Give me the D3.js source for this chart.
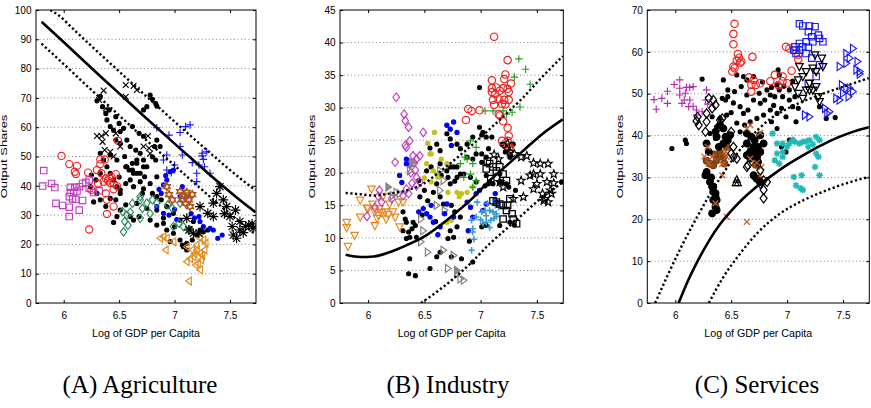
<!DOCTYPE html>
<html>
<head>
<meta charset="utf-8">
<title>Output shares vs log GDP per capita</title>
<script src="https://cdn.jsdelivr.net/npm/d3@7"></script>
<style>
  body { margin: 0; background: #fff; }
</style>
</head>
<body>
<div id="chart"></div>
<script>
// ---- tick labels ----
var xTicks = [6, 6.5, 7, 7.5];
var agTicks = [0, 10, 20, 30, 40, 50, 60, 70, 80, 90, 100];
var inTicks = [0, 5, 10, 15, 20, 25, 30, 35, 40, 45];
var svTicks = [0, 10, 20, 30, 40, 50, 60, 70];

// ---- (A) Agriculture ----
var agFit = [[5.8,96],[5.95,90.8],[6.1,85.5],[6.25,80.2],[6.4,75],[6.55,69.8],[6.7,64.6],[6.85,59.5],[7.0,54.4],[7.15,49.4],[7.3,44.4],[7.45,39.5],[7.6,34.8],[7.73,31]];
var agUpper = [[5.88,100],[5.95,98.3],[6.1,93],[6.25,87.7],[6.4,82.5],[6.55,77.3],[6.7,72.1],[6.85,67],[7.0,61.9],[7.15,56.9],[7.3,51.9],[7.45,47],[7.6,42.3],[7.73,38.5]];
var agLower = [[5.8,88.5],[5.95,83.3],[6.1,78],[6.25,72.7],[6.4,67.5],[6.55,62.3],[6.7,57.1],[6.85,52],[7.0,46.9],[7.15,41.9],[7.3,36.9],[7.45,32],[7.6,27.3],[7.73,23.5]];
var agMagentaSq = [[5.82,45.2],[5.81,39.9],[5.89,40.8],[5.92,39.4],[5.93,34],[5.99,33.3],[6.05,32.7],[6.05,29.5],[6.06,39.5],[6.1,39.5],[6.14,39.7],[6.05,36.3],[6.09,37.7],[6.11,35.4],[6.14,31.7],[6.17,35],[6.2,41.2],[6.23,42],[6.23,39.1],[6.27,37.7],[6.32,38.3],[6.06,37.7],[6.17,40.8],[6.08,35.5],[6.12,38.2]];
var agRedCirc = [[5.98,50.2],[6.05,47.4],[6.12,46.8],[6.1,44.8],[6.11,44],[6.22,44.5],[6.33,49],[6.33,47.4],[6.37,49],[6.3,45.4],[6.34,44.3],[6.38,42.5],[6.36,41.4],[6.4,41.8],[6.43,43.1],[6.47,44],[6.45,40.8],[6.48,39.9],[6.45,38.8],[6.38,37.4],[6.39,35.2],[6.45,32.9],[6.39,30.4],[6.23,25.1],[6.31,40.8],[6.25,38.6],[6.49,55.4],[6.41,42.6],[6.42,41]];
var agBlackX = [[6.36,72.5],[6.32,69.3],[6.38,66.4],[6.3,57],[6.34,57],[6.38,57.9],[6.37,52.2],[6.42,51.6],[6.56,74.4],[6.63,74.1],[6.66,72.7],[6.56,70.4],[6.76,57],[6.72,53.4],[6.77,52.8],[6.78,51],[6.51,53.4],[6.45,50],[6.47,57.9],[6.35,55]];
var agBluePlus = [[6.84,59.8],[6.95,57.3],[7.05,58.2],[7.1,60.2],[7.14,60.8],[7.05,53.4],[7.07,50.5],[6.93,50.5],[6.9,48.8],[7.25,51.1],[7.29,51.6],[7.26,49],[7.27,46.5],[7.32,44.3],[7.22,47.1],[7.2,44.3],[7.2,41.4],[7.16,47.9],[7.25,50.2],[7.0,47.1],[6.93,45.4],[6.97,44.5]];
var agBlueDot = [[6.96,44.8],[6.99,45.4],[6.93,42],[6.9,40.3],[6.88,37.4],[6.84,32.9],[6.9,30.6],[6.95,30],[7.05,36.3],[7.07,39.7],[7.11,36.3],[7.23,27.8],[7.26,26.1],[7.32,25.5],[7.35,24.9],[7.39,22.1],[7.43,23.2],[7.22,29.5],[6.86,38.8],[6.92,43.5],[7.0,32],[7.02,28.5],[7.15,30.5],[7.18,29]];
var agGreenDiam = [[6.53,31.2],[6.55,27.8],[6.54,24.3],[6.57,30],[6.69,35.2],[6.71,32.3],[6.69,28.9],[6.75,34.1],[6.8,35.2],[6.84,34.1],[6.99,26.1],[7.04,27.2],[7.08,26.1],[7.13,24.9],[6.98,32.3],[7.05,34.1],[6.69,36.3],[6.6,31],[6.62,34],[6.78,30.5],[6.94,33.5],[6.58,26.5]];
var agBrownStar = [[6.93,39.7],[6.98,35.2],[7.05,38],[7.08,36.9],[7.11,37.7],[7.13,35.2],[7.14,32.9],[7.07,35.2],[6.95,37],[7.16,37],[7.1,34]];
var agOrangeTri = [[6.9,22.6],[6.93,22.1],[6.92,18.1],[6.87,22.1],[6.99,20.9],[7.11,19.2],[7.16,18.1],[7.2,19.8],[7.23,22.1],[7.26,21.5],[7.23,17],[7.17,15.8],[7.11,14.1],[7.14,15.2],[7.24,14.7],[7.23,11.3],[7.13,7.5],[7.2,18.1],[7.27,18.1],[7.28,20.4],[7.21,13.5],[7.19,13],[7.25,16.2],[7.18,16.8]];
var agBlackAst = [[7.11,28.9],[7.13,24.9],[7.23,32.9],[7.35,34.1],[7.38,37.4],[7.41,39.7],[7.44,35.2],[7.47,32.9],[7.5,29.5],[7.52,26.1],[7.53,23.2],[7.56,22.1],[7.59,24.9],[7.64,26.1],[7.67,26.6],[7.71,25.5],[7.59,27.8],[7.55,31.7],[7.35,29.5],[7.3,30.6],[7.17,23.8],[7.22,23.8],[7.45,30.5],[7.62,24],[7.7,27]];
var agBlackDot = [[6.78,71],[6.8,69.5],[6.83,68.1],[6.84,67.2],[6.72,65.9],[6.75,67],[6.47,63.6],[6.5,61.3],[6.54,59.6],[6.51,58.5],[6.41,65.9],[6.38,64.7],[6.39,62.5],[6.42,60.2],[6.45,59],[6.47,55.6],[6.51,54.5],[6.57,55.6],[6.6,53.4],[6.65,52.2],[6.69,51.1],[6.66,48.8],[6.62,47.7],[6.56,46.5],[6.59,45.4],[6.63,44.3],[6.69,44.3],[6.75,46.5],[6.72,48.8],[6.8,49.9],[6.82,53.4],[6.84,55.6],[6.87,53.4],[6.72,56.9],[6.68,57.9],[6.62,60.2],[6.33,51.1],[6.36,48.8],[6.39,46.5],[6.42,44.3],[6.45,42],[6.48,39.7],[6.51,37.4],[6.33,44.3],[6.29,42],[6.24,39.7],[6.3,37.4],[6.25,43.7],[6.33,35.2],[6.42,35.7],[6.47,35.2],[6.51,38.6],[6.56,40.8],[6.6,42],[6.63,39.7],[6.69,41.4],[6.73,43.1],[6.66,44.3],[6.62,45.4],[6.57,46.5],[6.48,29.5],[6.51,31.7],[6.6,29.5],[6.63,28.3],[6.68,29.5],[6.78,28.3],[6.84,26.6],[6.9,27.2],[6.93,24.9],[6.99,23.8],[7.05,21.5],[7.08,19.2],[7.11,20.4],[7.16,21.5],[7.2,23.2],[7.26,24.3],[7.3,24.9],[7.11,18.1],[7.07,19.8],[6.84,31.7],[6.75,32.3],[6.71,37.4],[6.8,37.4],[6.84,36.3],[6.88,35.2],[6.93,32.9],[6.99,30.6],[6.78,40.8],[6.84,43.1],[6.48,48.8],[6.42,50.5],[6.66,47.7],[6.72,46.5],[6.83,48.8],[7.05,28.3],[7.17,27.8],[7.23,24.9],[6.33,70.5],[6.3,69],[6.35,67],[6.55,50],[6.5,43],[6.38,33],[6.56,33.5],[6.66,34],[6.72,39],[6.9,29],[7.0,26],[6.96,21],[7.14,25.5],[6.27,34.5],[6.45,27.5]];

// ---- (B) Industry ----
var inFit = [[5.8,7.4],[5.93,7.06],[6.05,7.15],[6.19,7.8],[6.34,8.85],[6.49,10.1],[6.64,11.9],[6.79,14],[6.94,16.3],[7.08,18.8],[7.23,21.1],[7.38,23.4],[7.53,25.7],[7.73,28.2]];
var inUpper = [[5.8,16.9],[5.93,16.7],[6.05,16.5],[6.19,16.8],[6.34,17.3],[6.49,18.3],[6.64,20.2],[6.79,22.3],[6.94,24.5],[7.08,26.7],[7.23,29.1],[7.38,31.6],[7.53,34.4],[7.73,37.9]];
var inLower = [[6.47,0],[6.64,2.1],[6.79,4.2],[6.94,6.6],[7.08,9.1],[7.23,11.4],[7.38,13.7],[7.53,16],[7.73,18.5]];
var inOrangeTri = [[5.81,12.4],[5.81,11.6],[5.82,8.7],[5.88,10.4],[5.93,15.8],[5.93,13.2],[6.0,14.5],[6.03,17.5],[6.04,15.2],[6.06,14],[6.09,13.5],[6.12,13.9],[6.15,14],[6.16,12.9],[6.19,15.2],[6.22,14],[6.24,13.2],[6.28,11.7],[6.27,15.5],[6.31,15.5],[6.1,14.5],[6.06,11.9],[6.13,16.4],[5.99,14.6],[6.08,13],[6.18,13.6]];
var inMagentaDiam = [[6.25,31.6],[6.32,29],[6.33,28],[6.36,27],[6.37,24.9],[6.33,24.2],[6.34,23.9],[6.49,26.2],[6.46,22.6],[6.43,22.1],[6.24,21.6],[6.4,22.6],[6.37,21.4],[6.42,20.4],[6.43,19.3],[6.46,18.6],[6.39,18.4],[6.34,17.5],[6.36,16.8],[6.31,16.5],[6.1,17.3],[6.12,15.5],[6.09,16.4],[6.21,16],[5.99,13.3],[6.06,14.7],[6.43,18],[6.38,20],[6.41,21.5]];
var inGrayTri = [[6.25,17],[6.28,16.8],[6.4,21.4],[6.37,20.3],[6.64,17.3],[6.67,18.8],[6.47,12.9],[6.49,11.1],[6.47,9.4],[6.53,7.8],[6.67,8.1],[6.76,7.3],[6.71,5.3],[6.79,4.5],[6.82,3.7],[6.85,3.5],[6.61,15],[6.68,14.2],[6.64,20.3],[6.22,16.5]];
var inGrayTriFill = [[6.18,17.8],[6.39,21.6],[6.79,5]];
var inYellowDot = [[6.59,26.2],[6.56,22.9],[6.55,22.9],[6.52,21.4],[6.58,20.3],[6.61,19.8],[6.56,18.6],[6.65,22.1],[6.7,21.4],[6.71,17],[6.79,17],[6.81,16.3],[6.83,16.8],[6.88,17],[6.93,17.8],[6.74,12.7],[6.7,12.4],[6.62,19.3],[6.5,19.2],[6.53,24.5]];
var inBlueDot = [[6.7,27.3],[6.73,26.7],[6.76,27.8],[6.79,26.2],[6.74,24.2],[6.34,22.1],[6.28,19.6],[6.34,21.4],[6.49,14.5],[6.52,13.7],[6.55,13.2],[6.58,12.4],[6.56,15],[6.64,11.7],[6.68,13.7],[6.7,15.2],[6.76,13.2],[6.88,15.5],[6.91,14.7],[6.93,13.2],[6.96,16.8],[6.99,17.3],[7.02,14.2],[7.05,15.2],[7.13,16.8],[7.14,15.5],[6.89,11.1],[6.3,18.5],[6.62,10.5],[6.45,14]];
var inLightBluePlus = [[6.92,12.7],[6.93,11.4],[6.93,10.9],[6.96,13.2],[7.01,14],[7.04,14.2],[7.05,13.4],[7.08,14.2],[7.11,14],[7.14,13.7],[7.16,14.7],[7.05,12.4],[7.09,12.7],[7.12,13],[7.02,12.2],[7.08,11.6],[7.13,15],[6.92,8.1],[7.14,13.3],[6.97,15.5],[6.94,9.8],[7.0,12.8],[7.06,15.3]];
var inGreenPlus = [[7.34,37.5],[7.4,35.9],[7.3,34.7],[7.44,33.6],[7.35,30.1],[7.28,29.3],[7.04,29.5],[7.11,29.5],[7.2,29.5],[7.23,29],[6.91,24.9],[6.96,23.9],[6.86,22.4],[6.82,21.4],[6.88,22.1],[6.93,21.4],[6.91,19.8],[6.85,19.3],[6.96,18.8],[6.93,17.8]];
var inRedCirc = [[7.12,40.9],[7.24,37.3],[7.22,35.1],[7.27,33.7],[7.1,33],[7.14,33.1],[7.17,32.6],[7.2,33],[7.24,32.9],[7.25,32.4],[7.1,32.4],[7.13,32.1],[7.11,31.2],[7.16,31.3],[7.21,31.2],[7.25,31.2],[7.12,30.4],[7.19,30.6],[7.22,30.5],[7.16,29],[7.17,28.8],[7.2,27.9],[7.24,26.9],[7.25,25.7],[7.24,24.9],[7.19,24.9],[7.26,24],[7.25,23.9],[6.89,29.8],[6.92,29.5],[6.87,28.1],[6.99,29.6],[7.1,34.2],[7.21,34.4]];
var inBlackSq = [[7.08,21.4],[7.11,20.9],[7.14,20.3],[7.17,20.9],[7.2,19.8],[7.23,18.8],[7.11,15.7],[7.14,15.5],[7.17,15.2],[7.2,15],[7.23,14.2],[7.28,13.7],[7.29,12.9],[7.2,12.9],[7.32,12.2],[7.24,15],[7.05,20.6],[7.09,19.1],[7.06,21.8],[7.26,16]];
var inBlackStar = [[7.12,22.8],[7.23,23.7],[7.26,23.2],[7.36,22.4],[7.41,22.6],[7.47,21.5],[7.53,21.4],[7.6,21.4],[7.47,19.8],[7.53,19.8],[7.65,19.8],[7.44,19.6],[7.16,22.1],[7.36,18.8],[7.5,18.3],[7.59,18.6],[7.47,17.5],[7.55,16.8],[7.62,17.3],[7.65,18.4],[7.57,16],[7.6,15.5],[7.56,15.7],[7.63,16.8],[7.38,16.3],[7.29,16],[7.17,18.6],[7.2,17.8],[7.24,24.5],[7.3,22.9]];
var inBlackDot = [[6.31,14],[6.33,12.9],[6.34,12.4],[6.31,11.1],[6.36,10.9],[6.39,11.4],[6.4,12.4],[6.43,10.1],[6.37,10.1],[6.34,9.9],[6.42,11.9],[6.37,6.8],[6.36,4.5],[6.42,4.2],[6.55,5.3],[6.46,16.3],[6.5,17.3],[6.53,15.7],[6.58,17],[6.61,18.3],[6.64,16.3],[6.67,15.2],[6.65,19.6],[6.71,19.3],[6.73,18.3],[6.77,18.7],[6.82,19.8],[6.79,20.9],[6.73,20.9],[6.74,15],[6.77,14],[6.82,13.2],[6.79,11.7],[6.76,10.1],[6.71,9.9],[6.73,11.1],[6.64,7.8],[6.61,7.1],[6.74,7.1],[6.83,6.8],[6.93,6.3],[6.96,22.9],[7.01,21.6],[7.05,22.4],[7.07,18.3],[7.11,18.3],[7.19,18.6],[7.23,18.3],[7.26,12.4],[7.05,11.9],[7.01,11.7],[7.17,11.9],[7.72,18.6],[6.99,33.1],[6.99,27],[7.02,26.2],[7.05,25.5],[7.1,25.5],[7.01,25.8],[6.7,26],[6.73,25.2],[6.79,24.4],[6.82,23.7],[6.93,25.5],[6.88,24.4],[6.88,22.4],[6.93,22.1],[7.01,22.9],[7.07,23.7],[7.19,24.4],[7.22,23.2],[7.26,22.4],[7.29,24.4],[6.64,23.4],[6.61,24.4],[6.56,20.9],[6.52,20.3],[6.45,18.8],[6.64,21.4],[6.7,20.3],[6.76,20.9],[6.79,19.3],[6.85,19.8],[6.91,19.3],[6.96,18.6],[7.04,18],[7.08,18.6],[7.17,18.6],[7.05,19.6],[7.17,19.8],[7.25,17.8],[7.31,17.3],[6.55,23.8],[6.48,13.5],[6.6,12.5],[6.9,9.5],[7.3,12]];

// ---- (C) Services ----
var svFit = [[6.03,0],[6.1,4.5],[6.2,10],[6.3,14.8],[6.4,18.8],[6.5,22],[6.6,24.8],[6.7,27.2],[6.85,30.2],[7.0,33],[7.15,35.4],[7.3,37.6],[7.45,39.5],[7.6,41],[7.73,42]];
var svUpper = [[5.82,0],[5.93,6.5],[6.05,13.2],[6.2,20.8],[6.3,25.5],[6.4,29.8],[6.52,34.5],[6.64,38.6],[6.75,41.7],[6.85,44],[7.03,46.8],[7.24,49.2],[7.47,51.4],[7.73,53.7]];
var svLower = [[6.3,0],[6.43,6.2],[6.58,11.8],[6.73,16.6],[6.94,21.4],[7.15,24.6],[7.36,27],[7.53,28.6],[7.73,30.1]];
var svPurplePlus = [[5.81,48.6],[5.83,46.3],[5.88,48.9],[5.93,50.6],[5.93,47.7],[5.99,52.2],[6.04,53.3],[6.04,51.3],[6.09,50.1],[6.1,51.5],[6.04,49.7],[6.08,48.5],[6.13,51.5],[6.16,51.7],[6.06,47.7],[6.12,46.9],[6.16,47],[6.19,46.1],[6.13,48.5],[6.28,50.9],[6.27,48.5],[6.24,45.7],[6.19,44.9],[6.29,47.5]];
var svBlackDiam = [[6.3,48.9],[6.34,48.5],[6.36,47.3],[6.33,46.5],[6.28,45.3],[6.2,44.5],[6.19,43.5],[6.21,42.5],[6.28,43.3],[6.4,43.7],[6.39,42.1],[6.27,40.9],[6.52,37.3],[6.5,35.7],[6.65,32.9],[6.64,32.5],[6.79,29.3],[6.82,28.9],[6.55,34.5],[6.5,40.9],[6.42,44.1],[6.76,31.7],[6.79,27],[6.79,25],[6.76,28.5],[6.71,30.1],[6.52,34.9],[6.46,39]];
var svBlackTriUp = [[6.54,28.7],[6.56,28.7],[6.55,29.5]];
var svRedCirc = [[6.53,66.7],[6.52,64.3],[6.52,61.8],[6.56,59.5],[6.57,58.6],[6.55,57.9],[6.52,56.5],[6.53,56.1],[6.51,55.3],[6.58,57.4],[6.59,57.7],[6.69,58.8],[6.66,53.9],[6.7,53.3],[6.68,52.1],[6.72,52.1],[6.68,50.5],[6.76,52.5],[6.85,53],[6.89,54.5],[6.96,54.1],[7.04,55.5],[6.96,53],[6.99,61.2],[7.02,60.8],[7.06,60.4],[7.1,59.3],[7.1,58.2],[6.92,52],[7.0,52.5]];
var svBlueSq = [[7.11,66.7],[7.14,66.2],[7.2,66.2],[7.25,66],[7.19,64.8],[7.22,63.6],[7.28,64],[7.29,63.2],[7.32,62.4],[7.23,62.4],[7.17,62.4],[7.11,62],[7.07,61.2],[7.14,61.2],[7.19,61.1],[7.11,60.4],[7.06,60.4],[7.08,59.6],[7.17,59.6],[7.22,58.5],[7.29,56.9],[7.26,54.1],[7.19,52.5]];
var svBlackTriDown = [[7.11,56.5],[7.17,55.3],[7.23,56.1],[7.26,55.3],[7.14,54.1],[7.1,53.3],[7.2,52.5],[7.23,50.9],[7.26,51.7],[7.17,50.9],[7.28,49.3],[7.14,48.9],[7.1,50.1],[7.07,51.7],[7.29,48.1],[7.32,56.5],[7.31,58.5],[7.25,59.3],[7.2,50.9]];
var svBlueTriRight = [[7.59,60.8],[7.53,59.6],[7.56,58.5],[7.63,57.7],[7.53,57.3],[7.47,56.5],[7.62,55.7],[7.65,54.7],[7.65,55.3],[7.49,52.1],[7.53,51.3],[7.56,51.3],[7.59,50.5],[7.5,50.1],[7.55,49.3],[7.44,48.9],[7.47,48.5],[7.34,46.5],[7.38,45.7],[7.36,45.3],[7.16,44.9],[7.2,44.5]];
var svCyanAst = [[6.87,40.5],[6.91,38.1],[6.96,38.1],[7.02,38.1],[7.07,38.5],[7.11,38.1],[7.14,38.5],[7.2,38.9],[7.26,39.7],[7.29,38.9],[6.91,35.7],[6.96,36.1],[6.89,34.1],[6.93,33.3],[6.96,34.9],[7.26,35.7],[7.28,34.9],[7.19,37.3],[7.25,32.5],[7.29,30.5],[7.06,30.1],[7.13,30.5],[7.08,28.1],[7.12,27.4],[7.14,27],[7.0,37.3],[7.05,39],[7.17,38.6],[7.23,37.9]];
var svBrownX = [[6.67,42.5],[6.64,41.7],[6.76,40.7],[6.29,37.3],[6.33,34.9],[6.3,33.3],[6.42,33.2],[6.45,36.1],[6.46,34.9],[6.42,30.5],[6.76,30.5],[6.77,32.5],[6.67,34.5],[6.46,20.6],[6.64,19.4],[6.36,23.8],[6.73,33.5],[6.26,35]];
var svBrownDot = [[6.31,33.3],[6.34,32.9],[6.37,34.1],[6.43,34.9],[6.46,37.3],[6.4,35.8],[6.7,35.7],[6.73,34.9],[6.76,36.1],[6.68,37],[6.35,35.5],[6.28,34],[6.72,33],[6.44,33.3]];
var svBlackBig = [[6.28,38.1],[6.3,36.1],[6.36,40.9],[6.37,39.7],[6.43,41.7],[6.45,39.7],[6.49,40.1],[6.47,38.9],[6.43,38.1],[6.39,37.3],[6.28,31.3],[6.27,30.5],[6.31,28.9],[6.33,27.8],[6.34,26.6],[6.36,25.4],[6.34,27.8],[6.36,26.2],[6.34,24.6],[6.37,24.6],[6.36,23],[6.33,21.4],[6.37,22.2],[6.64,35.3],[6.67,34.5],[6.7,35.7],[6.73,34.9],[6.74,33.7],[6.76,36.1],[6.7,30.5],[6.73,29.7],[6.76,28.9],[6.64,40.5],[6.68,39.7],[6.71,38.9],[6.76,40.1],[6.7,37.3],[6.74,37.3],[6.79,38.1],[6.73,36.1],[6.67,36.1],[6.64,38.1],[6.32,30],[6.4,42.5]];
var svBlackDot = [[5.97,36.9],[6.09,38.9],[6.1,38.1],[6.24,53.5],[6.37,42.1],[6.4,44.1],[6.46,44.9],[6.45,48.5],[6.47,49.3],[6.42,48.9],[6.53,50.5],[6.59,51.7],[6.61,54.1],[6.64,53.3],[6.7,54.1],[6.82,50.9],[6.85,49.7],[6.89,49.3],[6.92,55.7],[6.93,54.5],[6.96,49.3],[7.02,48.5],[7.05,46.9],[7.1,46.5],[6.91,45.3],[6.85,46.1],[6.79,44.9],[6.73,44.1],[6.67,43.3],[6.61,45.3],[6.58,46.9],[6.65,46.1],[6.7,48.5],[6.76,47.7],[6.8,48.5],[6.64,49.7],[6.91,41.7],[6.86,43.3],[7.29,46.9],[7.35,44.1],[7.43,44.3],[7.08,43.3],[6.99,44.5],[6.95,37.3],[6.99,36.1],[7.02,38.9],[6.43,53.3],[6.47,50.9],[6.55,54.5],[6.75,50.1],[6.93,50.9],[7.02,50.9],[7.07,49.3],[6.91,52.1],[6.58,40.9],[6.31,40.5],[6.36,39.3],[6.5,45.5],[6.55,43],[6.78,52.8],[6.86,51.5],[6.97,51.8],[7.05,53],[6.33,44.5],[6.52,47.8],[6.62,42.5],[6.88,47.2],[6.95,46.5]];

// ---- layout ----
var width = 871, height = 408,
    plotTop = 10, plotBottom = 303;

var panels = [
    {left: 36, right: 256, yTicks: agTicks, labelX: 4, caption: '(A) Agriculture', capX: 140,
     layers: [
        {data: agBlackDot, shape: 'circle', r: 2, color: '#000', fill: '#000'},
        {data: agMagentaSq, shape: 'square', r: 3.2, color: '#c23fc2'},
        {data: agRedCirc, shape: 'circle', r: 3.6, color: '#ee2222'},
        {data: agBlackX, shape: 'x', r: 2.9, color: '#000'},
        {data: agBluePlus, shape: 'plus', r: 3.8, color: '#1a1aee'},
        {data: agBlueDot, shape: 'circle', r: 2, color: '#0000ee', fill: '#0000ee'},
        {data: agGreenDiam, shape: 'diamond', r: 3.2, color: '#2f8a60'},
        {data: agBrownStar, shape: 'hex', r: 4.2, color: '#b0551c', fill: '#c77a3c'},
        {data: agOrangeTri, shape: 'triLeft', r: 4, color: '#e08c1e'},
        {data: agBlackAst, shape: 'ast', r: 5, color: '#000'}
     ],
     fits: [agFit, agUpper, agLower]},
    {left: 340, right: 563.3, yTicks: inTicks, labelX: 312, caption: '(B) Industry', capX: 448,
     layers: [
        {data: inBlackDot, shape: 'circle', r: 2, color: '#000', fill: '#000'},
        {data: inOrangeTri, shape: 'triDown', r: 4.2, color: '#e8871e'},
        {data: inMagentaDiam, shape: 'diamond', r: 3.3, color: '#c23fc2'},
        {data: inGrayTri, shape: 'triRight', r: 4, color: '#7f7f7f'},
        {data: inGrayTriFill, shape: 'triRight', r: 4, color: '#7f7f7f', fill: '#8c8c8c'},
        {data: inYellowDot, shape: 'circle', r: 2.1, color: '#c2c21a', fill: '#c2c21a'},
        {data: inBlueDot, shape: 'circle', r: 2.1, color: '#0000ee', fill: '#0000ee'},
        {data: inLightBluePlus, shape: 'plus', r: 3.2, color: '#3a9ad0', sw: 1.6},
        {data: inGreenPlus, shape: 'plus', r: 3.7, color: '#22a022'},
        {data: inRedCirc, shape: 'circle', r: 3.7, color: '#ee2222'},
        {data: inBlackSq, shape: 'square', r: 3.2, color: '#000', sw: 1.25},
        {data: inBlackStar, shape: 'star', r: 4.3, color: '#000'}
     ],
     fits: [inFit, inUpper, inLower]},
    {left: 647.3, right: 869.3, yTicks: svTicks, labelX: 620, caption: '(C) Services', capX: 757,
     layers: [
        {data: svBlackDot, shape: 'circle', r: 2, color: '#000', fill: '#000'},
        {data: svPurplePlus, shape: 'plus', r: 3.7, color: '#b526b5'},
        {data: svBrownDot, shape: 'circle', r: 3.3, color: '#7a3b10', fill: '#8b4a18'},
        {data: svBlackBig, shape: 'circle', r: 3.4, color: '#000', fill: '#000'},
        {data: svBrownX, shape: 'x', r: 2.9, color: '#c0602a', sw: 1.3},
        {data: svBlackDiam, shape: 'diamond', r: 3.5, color: '#000', sw: 1.2},
        {data: svBlackTriUp, shape: 'triUp', r: 3.8, color: '#000', sw: 1.2},
        {data: svRedCirc, shape: 'circle', r: 3.7, color: '#ee2222'},
        {data: svBlueSq, shape: 'square', r: 3.2, color: '#1a1aee'},
        {data: svBlackTriDown, shape: 'triDown', r: 4.2, color: '#000', sw: 1.25},
        {data: svBlueTriRight, shape: 'triRight', r: 4.2, color: '#1a1aee'},
        {data: svCyanAst, shape: 'ast', r: 3.3, color: '#20b8b8', sw: 1.5}
     ],
     fits: [svFit, svUpper, svLower]}
];

// marker outlines, r = half size
function shape(type, r) {
    var p = d3.path(), h = r * 1.3, i, a, k;
    switch (type) {
        case 'circle':
            p.moveTo(r, 0); p.arc(0, 0, r, 0, 2 * Math.PI); break;
        case 'square':
            p.rect(-r, -r, 2 * r, 2 * r); break;
        case 'diamond':
            p.moveTo(0, -h); p.lineTo(r, 0); p.lineTo(0, h); p.lineTo(-r, 0); p.closePath(); break;
        case 'triUp':
            p.moveTo(0, -r); p.lineTo(r * 0.9, r * 0.7); p.lineTo(-r * 0.9, r * 0.7); p.closePath(); break;
        case 'triDown':
            p.moveTo(0, r); p.lineTo(r * 0.9, -r * 0.7); p.lineTo(-r * 0.9, -r * 0.7); p.closePath(); break;
        case 'triLeft':
            p.moveTo(-r * 0.8, 0); p.lineTo(r * 0.6, -r); p.lineTo(r * 0.6, r); p.closePath(); break;
        case 'triRight':
            p.moveTo(r * 0.8, 0); p.lineTo(-r * 0.6, -r); p.lineTo(-r * 0.6, r); p.closePath(); break;
        case 'plus':
            p.moveTo(-r, 0); p.lineTo(r, 0); p.moveTo(0, -r); p.lineTo(0, r); break;
        case 'x':
            p.moveTo(-r, -r); p.lineTo(r, r); p.moveTo(-r, r); p.lineTo(r, -r); break;
        case 'ast':
            k = r * 0.72;
            p.moveTo(-r, 0); p.lineTo(r, 0); p.moveTo(0, -r); p.lineTo(0, r);
            p.moveTo(-k, -k); p.lineTo(k, k); p.moveTo(-k, k); p.lineTo(k, -k); break;
        case 'star':
            for (i = 0; i < 10; i++) {
                a = -Math.PI / 2 + i * Math.PI / 5;
                k = i % 2 ? r * 0.42 : r;
                if (i === 0) p.moveTo(k * Math.cos(a), k * Math.sin(a));
                else p.lineTo(k * Math.cos(a), k * Math.sin(a));
            }
            p.closePath(); break;
        case 'hex':
            p.moveTo(0, -r); p.lineTo(r * 0.87, r * 0.5); p.lineTo(-r * 0.87, r * 0.5); p.closePath();
            p.moveTo(0, r); p.lineTo(r * 0.87, -r * 0.5); p.lineTo(-r * 0.87, -r * 0.5); p.closePath(); break;
    }
    return p.toString();
}

var svg = d3.select('#chart')
    .append('svg')
    .attr('width', width)
    .attr('height', height)
    .style('background', '#fff');

panels.forEach(function(p, i) {
    var yMax = p.yTicks[p.yTicks.length - 1];
    var x = d3.scaleLinear().domain([5.75, 7.735]).range([p.left, p.right]);
    var y = d3.scaleLinear().domain([0, yMax]).range([plotBottom, plotTop]);
    var g = svg.append('g');

    svg.append('clipPath').attr('id', 'clip' + i)
        .append('rect')
        .attr('x', p.left).attr('y', plotTop)
        .attr('width', p.right - p.left).attr('height', plotBottom - plotTop);

    // dotted y grid
    g.selectAll('.grid')
        .data(p.yTicks.slice(1, -1))
        .enter()
        .append('line')
        .attr('x1', p.left).attr('x2', p.right)
        .attr('y1', d => y(d)).attr('y2', d => y(d))
        .attr('stroke', '#808080')
        .attr('stroke-width', 1)
        .attr('stroke-dasharray', '1,2.6');

    var plot = g.append('g').attr('clip-path', 'url(#clip' + i + ')');

    p.layers.forEach(function(l) {
        plot.selectAll(null)
            .data(l.data)
            .enter()
            .append('path')
            .attr('transform', d => 'translate(' + x(d[0]) + ',' + y(d[1]) + ')')
            .attr('d', shape(l.shape, l.r))
            .attr('fill', l.fill || 'none')
            .attr('stroke', l.color)
            .attr('stroke-width', l.sw || 1.15);
    });

    var line = d3.line()
        .x(d => x(d[0]))
        .y(d => y(d[1]))
        .curve(d3.curveMonotoneX);

    p.fits.forEach(function(f, j) {
        plot.append('path')
            .attr('d', line(f))
            .attr('fill', 'none')
            .attr('stroke', '#000')
            .attr('stroke-width', j === 0 ? 2.6 : 2.4)
            .attr('stroke-dasharray', j === 0 ? null : '2.2,2.5');
    });

    // frame
    g.append('rect')
        .attr('x', p.left).attr('y', plotTop)
        .attr('width', p.right - p.left).attr('height', plotBottom - plotTop)
        .attr('fill', 'none')
        .attr('stroke', '#000')
        .attr('stroke-width', 1);

    // axes, ticks pointing inwards
    var fmt = d => String(d);
    var axes = [
        [d3.axisBottom(x).tickValues(xTicks).tickFormat(fmt).tickPadding(9), 'translate(0,' + plotBottom + ')'],
        [d3.axisTop(x).tickValues(xTicks).tickFormat(''), 'translate(0,' + plotTop + ')'],
        [d3.axisLeft(y).tickValues(p.yTicks).tickFormat(fmt).tickPadding(4.5), 'translate(' + p.left + ',0)'],
        [d3.axisRight(y).tickValues(p.yTicks).tickFormat(''), 'translate(' + p.right + ',0)']
    ];
    axes.forEach(function(a) {
        var ax = g.append('g')
            .attr('transform', a[1])
            .attr('font-family', '"Liberation Sans", Arial, sans-serif')
            .attr('font-size', 10)
            .call(a[0].tickSize(-3));
        ax.select('.domain').remove();
    });

    g.append('text')
        .attr('x', (p.left + p.right) / 2)
        .attr('y', 337)
        .attr('text-anchor', 'middle')
        .attr('font-family', '"Liberation Sans", Arial, sans-serif')
        .attr('font-size', 10.7)
        .text('Log of GDP per Capita');

    g.append('text')
        .attr('transform', 'translate(' + p.labelX + ',' + (plotTop + plotBottom) / 2 + ') scale(0.72,1) rotate(-90)')
        .attr('text-anchor', 'middle')
        .attr('dy', '0.35em')
        .attr('font-family', '"Liberation Sans", Arial, sans-serif')
        .attr('font-size', 13)
        .text('Output Shares');

    g.append('text')
        .attr('x', p.capX)
        .attr('y', 393)
        .attr('text-anchor', 'middle')
        .attr('font-family', '"Liberation Serif", "DejaVu Serif", serif')
        .attr('font-size', 25)
        .text(p.caption);
});
</script>
</body>
</html>
